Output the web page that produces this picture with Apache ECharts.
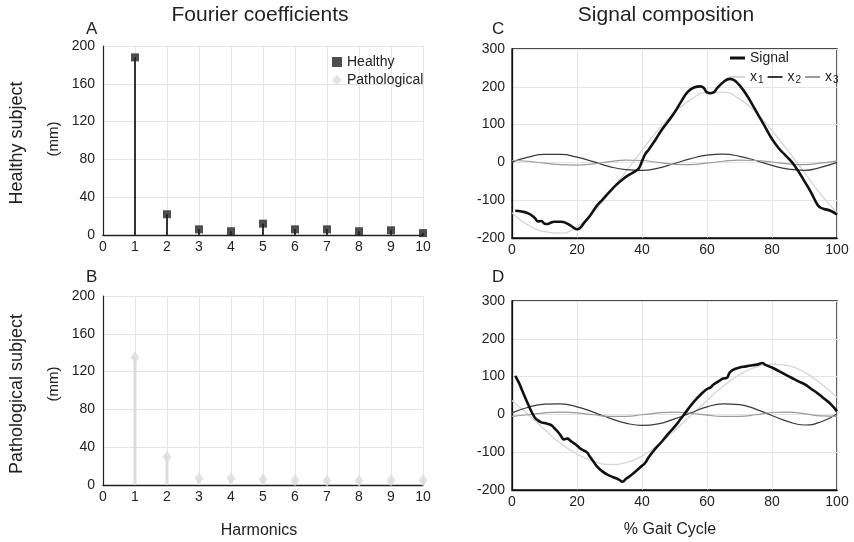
<!DOCTYPE html>
<html>
<head>
<meta charset="utf-8">
<script src="https://cdn.jsdelivr.net/npm/echarts@6/dist/echarts.min.js"></script>
<style>
html,body{margin:0;padding:0;background:#fff;}
#chart{width:854px;height:542px;}
</style>
</head>
<body>
<div id="chart"></div>
<script>
// ---- Data ----
var harmonics = [1,2,3,4,5,6,7,8,9,10];
var healthyCoef = [188,22,6,4,12,6,6,4,5,2];
var pathoCoef = [135,30,7,7,6,5,4.5,4.5,5,5];

var harmX = [0,5,10,15,20,25,30,35,40,45,50,55,60,65,70,75,80,85,90,95,100];
var healthyX1 = [-133,-166,-183,-187,-170,-132,-80,-25,32,86,132,166,185,186,168,133,84,30,-27,-84,-134];
var healthyX2 = [1,14,21,21,14,2,-11,-19,-21,-15,-3,10,19,22,16,5,-8,-18,-21,-13,0];
var healthyX3 = [5,3,-2,-6,-7,-4,2,6,5,0,-5,-6,-2,3,6,5,1,-4,-6,-2,4];
var pathoX1 = [37,0,-40,-77,-105,-124,-133,-128,-110,-80,-43,-3,37,75,105,125,133,129,112,82,45];
var pathoX2 = [4,19,27,28,20,6,-10,-23,-29,-25,-12,4,20,28,26,14,-3,-19,-28,-20,2];
var pathoX3 = [-5,-1,4,6,4,-1,-5,-5,-1,4,6,3,-2,-5,-5,-1,5,6,2,-4,-5];

var healthySigX = [1,3,5,7,8,9,10,11,12,13,15,17,19,20,21,22,24,26,28,30,32,34,36,38,39,40,41,42,44,46,48,50,52,54,56,58,59,60,61,62,63,65,67,68,69,70,72,74,76,78,80,82,84,86,88,90,92,94,95,96,98,100];
var healthySigY = [-128,-130,-135,-147,-156,-155,-162,-163,-159,-157,-157,-162,-173,-177,-173,-162,-141,-116,-97,-78,-60,-45,-33,-23,-16,3,22,33,58,85,108,132,160,186,198,201,197,185,183,185,195,212,221,219,213,204,181,152,122,92,62,38,20,2,-22,-50,-79,-112,-120,-123,-128,-138];

var pathoSigX = [1,2,3,5,6,7,8,9,10,12,13,14,15,16,17,18,19,20,21,22,23,24,25,26,28,30,32,33,34,35,36,38,40,41,42,44,46,48,50,52,54,56,58,60,61,62,64,65,66,67,68,70,72,74,76,77,78,80,82,84,86,88,90,92,94,96,98,100];
var pathoSigY = [102,86,66,26,7,-8,-16,-21,-23,-28,-36,-45,-56,-66,-64,-70,-76,-82,-90,-95,-100,-112,-124,-136,-152,-162,-169,-173,-178,-171,-165,-151,-136,-128,-114,-92,-73,-52,-33,-11,12,34,52,67,71,79,90,95,96,111,118,124,127,130,133,136,131,124,115,106,97,88,80,68,56,42,28,8];

var xTicksHarm = [0,1,2,3,4,5,6,7,8,9,10];
var yTicksCoef = [0,40,80,120,160,200];
var xTicksGait = [0,20,40,60,80,100];
var yTicksSig = [-200,-100,0,100,200,300];

function pairs(xs, ys){ return xs.map(function(x,i){ return [x, ys[i]]; }); }

var FONT = "'Liberation Sans', Arial, sans-serif";
var TXT = '#222';
var GRIDC = '#e4e4e4';
var TICKFS = 14;

var chart = echarts.init(document.getElementById('chart'), null, {renderer:'canvas'});

function coefX(idx){
  return {gridIndex: idx, type:'value', min: xTicksHarm[0], max: xTicksHarm[xTicksHarm.length-1], interval: 1,
    axisLine:{show:true, onZero:false, lineStyle:{color:'#222', width:1.3}},
    axisTick:{show:false},
    axisLabel:{color:TXT, fontSize:TICKFS, fontFamily:FONT, margin:5},
    splitLine:{show:true, lineStyle:{color:GRIDC, width:1}}};
}
function coefY(idx){
  return {gridIndex: idx, type:'value', min: yTicksCoef[0], max: yTicksCoef[yTicksCoef.length-1], interval: 40,
    axisLine:{show:true, lineStyle:{color:'#222', width:1.2}},
    axisTick:{show:false},
    axisLabel:{color:TXT, fontSize:TICKFS, fontFamily:FONT, margin:8},
    splitLine:{show:true, lineStyle:{color:GRIDC, width:1}}};
}
function gaitX(idx){
  return {gridIndex: idx, type:'value', min: xTicksGait[0], max: xTicksGait[xTicksGait.length-1], interval: 20,
    axisLine:{show:true, onZero:false, lineStyle:{color:'#111', width:1.3}},
    axisTick:{show:false},
    axisLabel:{color:TXT, fontSize:TICKFS, fontFamily:FONT, margin:5},
    splitLine:{show:true, lineStyle:{color:GRIDC, width:1}}};
}
function gaitY(idx){
  return {gridIndex: idx, type:'value', min: yTicksSig[0], max: yTicksSig[yTicksSig.length-1], interval: 100,
    axisLine:{show:true, lineStyle:{color:'#111', width:1.3}},
    axisTick:{show:false},
    axisLabel:{color:TXT, fontSize:TICKFS, fontFamily:FONT, margin:7},
    splitLine:{show:true, lineStyle:{color:GRIDC, width:1}}};
}

function lineSeries(name, xi, data, color, width, z){
  return {name:name, type:'line', xAxisIndex:xi, yAxisIndex:xi, data:data, showSymbol:false, symbol:'none',
    smooth:true, lineStyle:{color:color, width:width}, itemStyle:{color:color}, z:z, silent:true};
}

var subFmt = function(name){
  if (name === 'Signal') return '{n|Signal}';
  return '{n|x}{s|' + name.slice(1) + '}';
};
var richSub = {
  n:{fontSize:14, fontFamily:FONT, color:TXT},
  s:{fontSize:10, fontFamily:FONT, color:TXT, padding:[7,0,0,1]}
};

var option = {
  animation:false,
  backgroundColor:'#fff',
  grid:[
    {left:103, top:46, width:320, height:189},
    {left:103, top:296, width:320, height:189},
    {left:512, top:49, width:325, height:189, show:true, borderColor:'#111', borderWidth:1.3, backgroundColor:'transparent'},
    {left:512, top:301, width:325, height:189, show:true, borderColor:'#111', borderWidth:1.3, backgroundColor:'transparent'}
  ],
  xAxis:[coefX(0), coefX(1), gaitX(2), gaitX(3)],
  yAxis:[coefY(0), coefY(1), gaitY(2), gaitY(3)],
  legend:[
    {left:327, top:50, orient:'vertical', itemGap:4, itemWidth:10, itemHeight:10,
     textStyle:{fontSize:14, fontFamily:FONT, color:TXT},
     data:[{name:'Healthy', icon:'rect'},{name:'Pathological', icon:'diamond'}]},
    {left:725, top:46, orient:'horizontal', itemWidth:15, itemHeight:3, icon:'rect',
     formatter:subFmt, textStyle:{rich:richSub, fontSize:14, fontFamily:FONT, color:TXT},
     data:['Signal']},
    {left:725, top:65, orient:'horizontal', itemGap:4, itemWidth:15, itemHeight:2, icon:'rect',
     formatter:subFmt, textStyle:{rich:richSub, fontSize:14, fontFamily:FONT, color:TXT},
     data:['x1','x2','x3']}
  ],
  series:[
    {name:'HealthyStem', type:'bar', xAxisIndex:0, yAxisIndex:0, data:pairs(harmonics, healthyCoef), barWidth:2,
      itemStyle:{color:'#333'}, silent:true, z:2},
    {name:'Healthy', type:'scatter', xAxisIndex:0, yAxisIndex:0, data:pairs(harmonics, healthyCoef), symbol:'rect', symbolSize:8,
      itemStyle:{color:'#222'}, z:3},
    {name:'PathoStem', type:'bar', xAxisIndex:1, yAxisIndex:1, data:pairs(harmonics, pathoCoef), barWidth:3,
      itemStyle:{color:'#dcdcdc'}, silent:true, z:2},
    {name:'Pathological', type:'scatter', xAxisIndex:1, yAxisIndex:1, data:pairs(harmonics, pathoCoef), symbol:'diamond', symbolSize:[9,12],
      itemStyle:{color:'#dcdcdc'}, z:3},

    lineSeries('x1', 2, pairs(harmX, healthyX1), '#d6d6d6', 1.3, 2),
    lineSeries('x2', 2, pairs(harmX, healthyX2), '#3a3a3a', 1.2, 3),
    lineSeries('x3', 2, pairs(harmX, healthyX3), '#9a9a9a', 1.2, 3),
    lineSeries('Signal', 2, pairs(healthySigX, healthySigY), '#111', 2.6, 5),

    lineSeries('x1', 3, pairs(harmX, pathoX1), '#d6d6d6', 1.3, 2),
    lineSeries('x2', 3, pairs(harmX, pathoX2), '#3a3a3a', 1.2, 3),
    lineSeries('x3', 3, pairs(harmX, pathoX3), '#9a9a9a', 1.2, 3),
    lineSeries('Signal', 3, pairs(pathoSigX, pathoSigY), '#111', 2.6, 5)
  ],
  graphic:[
    {type:'text', x:260, y:15, style:{text:'Fourier coefficients', font:'21px '+FONT, fill:TXT, textAlign:'center', textVerticalAlign:'middle'}},
    {type:'text', x:666, y:15, style:{text:'Signal composition', font:'21px '+FONT, fill:TXT, textAlign:'center', textVerticalAlign:'middle'}},
    {type:'text', x:86, y:29, style:{text:'A', font:'17px '+FONT, fill:TXT, textVerticalAlign:'middle'}},
    {type:'text', x:86, y:277, style:{text:'B', font:'17px '+FONT, fill:TXT, textVerticalAlign:'middle'}},
    {type:'text', x:492, y:29, style:{text:'C', font:'17px '+FONT, fill:TXT, textVerticalAlign:'middle'}},
    {type:'text', x:492, y:277, style:{text:'D', font:'17px '+FONT, fill:TXT, textVerticalAlign:'middle'}},
    {type:'text', x:17, y:143, rotation:Math.PI/2, style:{text:'Healthy subject', font:'18px '+FONT, fill:TXT, textAlign:'center', textVerticalAlign:'middle'}},
    {type:'text', x:54, y:139, rotation:Math.PI/2, style:{text:'(mm)', font:'15px '+FONT, fill:TXT, textAlign:'center', textVerticalAlign:'middle'}},
    {type:'text', x:17, y:394, rotation:Math.PI/2, style:{text:'Pathological subject', font:'18px '+FONT, fill:TXT, textAlign:'center', textVerticalAlign:'middle'}},
    {type:'text', x:54, y:384, rotation:Math.PI/2, style:{text:'(mm)', font:'15px '+FONT, fill:TXT, textAlign:'center', textVerticalAlign:'middle'}},
    {type:'text', x:259, y:531, style:{text:'Harmonics', font:'16px '+FONT, fill:TXT, textAlign:'center', textVerticalAlign:'middle'}},
    {type:'text', x:670, y:530, style:{text:'% Gait Cycle', font:'16px '+FONT, fill:TXT, textAlign:'center', textVerticalAlign:'middle'}}
  ]
};
chart.setOption(option);
</script>
</body>
</html>
